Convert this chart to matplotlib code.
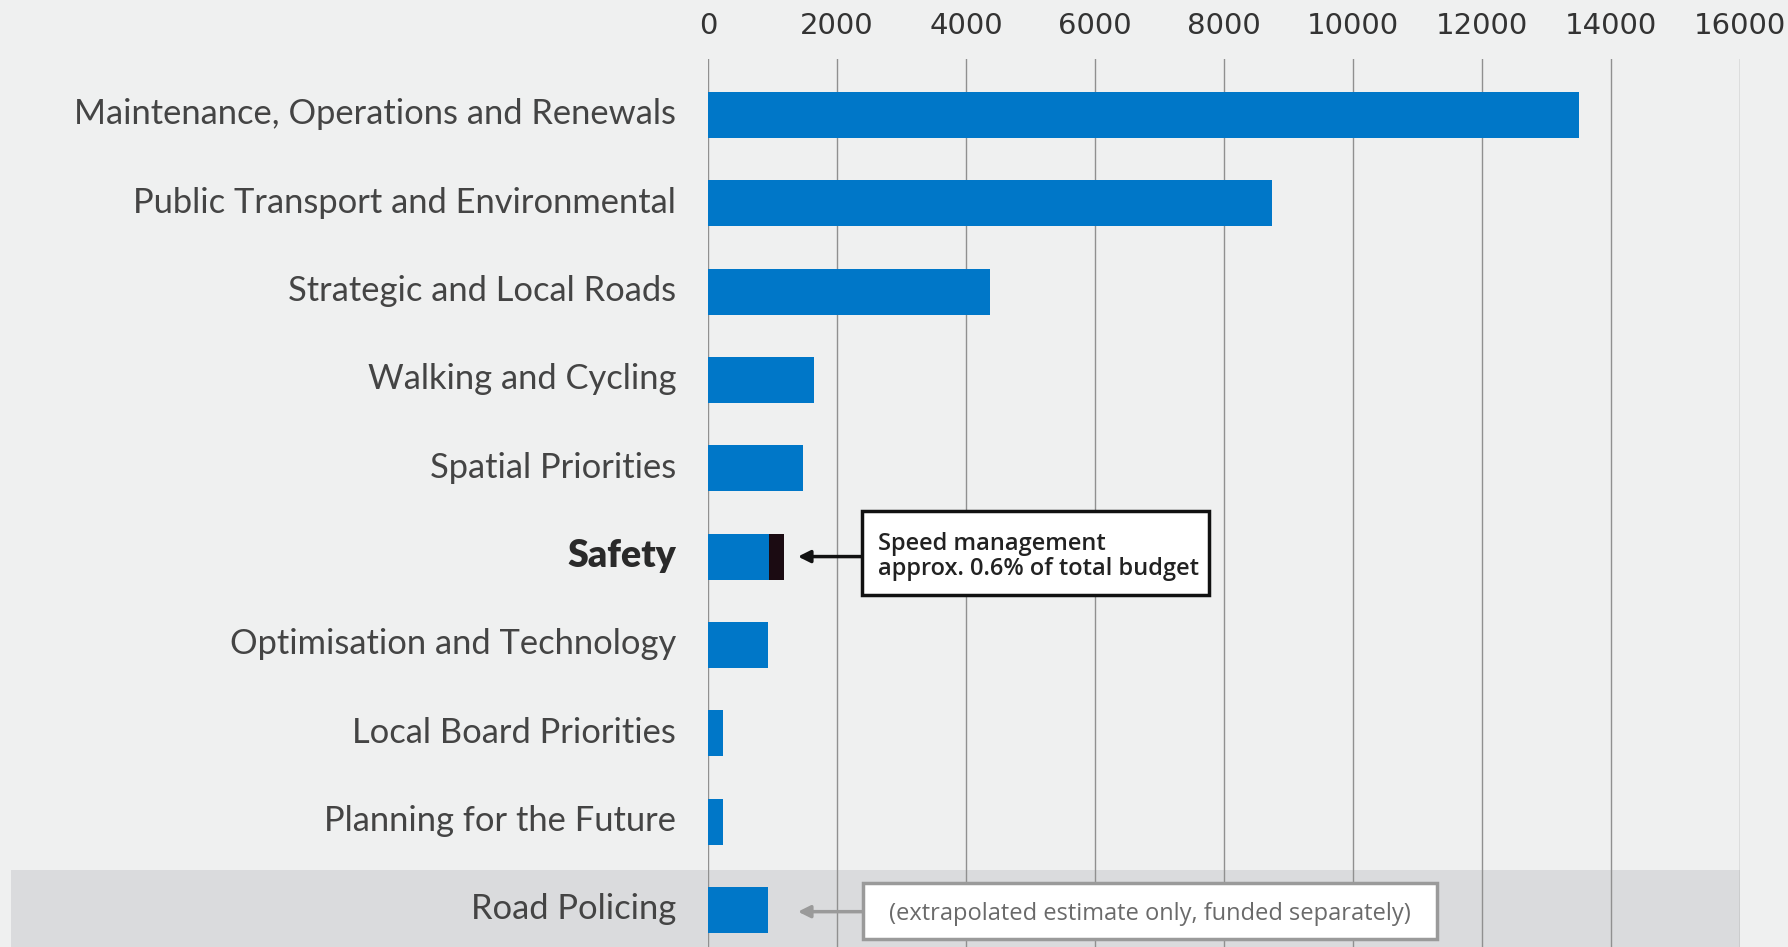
import matplotlib
matplotlib.use("Agg")
import matplotlib.pyplot as plt
from matplotlib.patches import Rectangle
from matplotlib.transforms import ScaledTranslation

# budget per activity class
categories = [
    "Maintenance, Operations and Renewals",
    "Public Transport and Environmental",
    "Strategic and Local Roads",
    "Walking and Cycling",
    "Spatial Priorities",
    "Safety",
    "Optimisation and Technology",
    "Local Board Priorities",
    "Planning for the Future",
    "Road Policing",
]
values = [13500, 8750, 4370, 1650, 1470, 950, 925, 235, 235, 925]
speed_mgmt = 235          # stacked on the Safety bar
x_ticks = [0, 2000, 4000, 6000, 8000, 10000, 12000, 14000, 16000]

BLUE = "#0077c8"
BG = "#eff0f0"
BAND = "#dadbdd"

fig = plt.figure(figsize=(17.88, 9.47), dpi=100, facecolor=BG)
ax = fig.add_axes([708 / 1788, 0.0, 1032 / 1788, 1 - 59 / 947])
ax.set_facecolor(BG)

rows = list(range(len(categories)))
ax.set_xlim(0, 16000)
ax.set_ylim(9.42, -0.633)

# grey band behind road policing row
ax.axhspan(8.55, 9.42, xmin=-(708 - 11) / 1032, xmax=1, color=BAND,
           clip_on=False, zorder=0, lw=0)

ax.barh(rows, values, height=0.52, color=BLUE, zorder=3)
ax.barh(5, speed_mgmt, left=values[5], height=0.52, color="#1b0b12", zorder=3)

# axes styling
for s in ax.spines.values():
    s.set_visible(False)
ax.xaxis.tick_top()
ax.set_xticks(x_ticks)
ax.set_xticklabels([str(t) for t in x_ticks], family="DejaVu Sans",
                   fontsize=21, color="#333333")
ax.tick_params(axis="x", length=0, pad=14)
ax.grid(axis="x", color="#909090", lw=1.0, zorder=1)
ax.set_axisbelow(True)

ax.set_yticks(rows)
ax.set_yticklabels(categories, family=["Lato", "DejaVu Sans"],
                   fontweight="normal", fontsize=24.8, color="#444444")
ax.tick_params(axis="y", length=0, pad=23)
shift = ScaledTranslation(0, 2.5 / 72, fig.dpi_scale_trans)
for t in ax.get_yticklabels():
    t.set_transform(t.get_transform() + shift)
lab = ax.get_yticklabels()[5]
lab.set_fontweight("heavy")
lab.set_fontsize(27)
lab.set_color("#2a2a2a")

# speed management callout
ax.add_patch(Rectangle((2388, 4.48), 7767 - 2388, 0.95, facecolor="white",
                       edgecolor="#111111", lw=2.5, zorder=4))
ax.text(2636, 4.995, "Speed management\napprox. 0.6% of total budget",
        va="center", ha="left", fontsize=17, color="#222222",
        family=["Open Sans", "DejaVu Sans"], fontweight="semibold",
        linespacing=1.05, zorder=5)
ax.annotate("", xy=(1395, 5), xytext=(2388, 5),
            arrowprops=dict(arrowstyle="-|>", color="#111111", lw=2.5,
                            mutation_scale=18, shrinkA=0, shrinkB=0), zorder=5)

# road policing note
ax.add_patch(Rectangle((2403, 8.70), 11302 - 2403, 0.63, facecolor="white",
                       edgecolor="#9a9a9a", lw=2.5, zorder=4))
ax.text(6853, 9.05, "(extrapolated estimate only, funded separately)",
        va="center", ha="center", fontsize=17, color="#6a6a6a",
        family=["Open Sans", "DejaVu Sans"], zorder=5)
ax.annotate("", xy=(1395, 9.02), xytext=(2403, 9.02),
            arrowprops=dict(arrowstyle="-|>", color="#9a9a9a", lw=2.5,
                            mutation_scale=18, shrinkA=0, shrinkB=0), zorder=5)

fig.savefig("out.png", dpi=100, facecolor=BG)
